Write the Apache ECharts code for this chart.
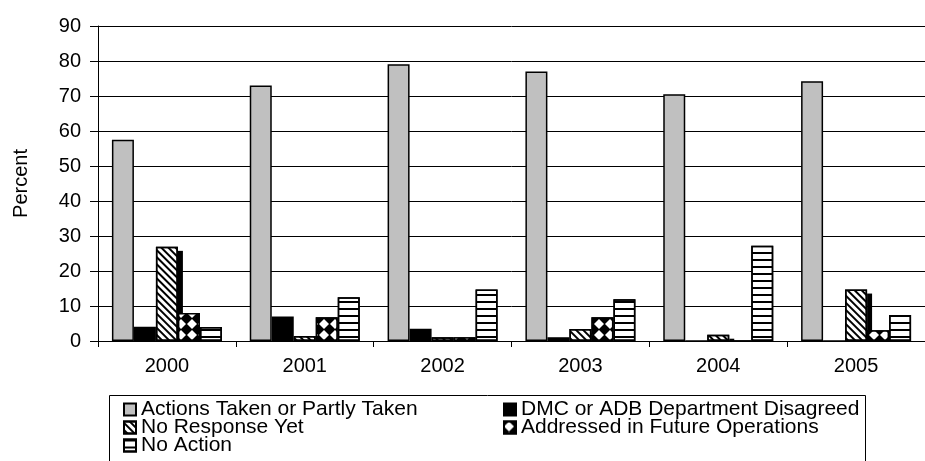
<!DOCTYPE html>
<html>
<head>
<meta charset="utf-8">
<title>Status of Recommendations, 2000-2005</title>
<script src="https://cdn.jsdelivr.net/npm/echarts@6/dist/echarts.min.js"></script>
<style>
  html, body { margin: 0; padding: 0; background: #fff; }
  #chart { width: 925px; height: 461px; }
</style>
</head>
<body>
<div id="chart"></div>
<script>
// Share of recommendations by status, per year (percent)
const years = ['2000', '2001', '2002', '2003', '2004', '2005'];
const actionsTaken = [57.5, 73.0, 79.1, 77.0, 70.5, 74.2];
const disagreed    = [4.1, 7.0, 3.5, 1.1, 0, 0];
const noResponse   = [26.9, 1.4, 1.1, 3.4, 1.8, 14.7];
const addressed    = [8.0, 6.8, 1.1, 6.8, 0, 3.1];
const noAction     = [4.0, 12.5, 14.7, 11.9, 27.2, 7.4];
const yTicks = { min: 0, max: 90, step: 10 };

const FONT = '"Liberation Sans", Arial, sans-serif';
const BAR_W = 22;

const outline = { borderColor: '#000', borderWidth: 1.5 };

function barSeries(name, data, style) {
  return {
    name: name,
    type: 'bar',
    data: data,
    barWidth: BAR_W,
    barGap: '0%',
    itemStyle: Object.assign({}, outline, style),
    emphasis: { disabled: true },
    animation: false
  };
}

const legendCommon = {
  orient: 'vertical',
  top: 399,
  height: 80,
  padding: 0,
  itemWidth: 12,
  itemHeight: 12,
  itemGap: -3,
  icon: 'rect',
  selectedMode: false,
  textStyle: { fontSize: 21, fontFamily: FONT, color: '#000', lineHeight: 17 }
};

const chart = echarts.init(document.getElementById('chart'), null, { renderer: 'canvas' });

chart.setOption({
  backgroundColor: '#fff',
  animation: false,
  textStyle: { fontFamily: FONT, color: '#000' },
  grid: { left: 98, top: 26, width: 837, height: 315, containLabel: false },
  xAxis: {
    type: 'category',
    data: years,
    axisLine: { lineStyle: { color: '#000', width: 1 } },
    axisTick: { show: true, length: 6, lineStyle: { color: '#000' } },
    axisLabel: { color: '#000', fontSize: 20, fontFamily: FONT, margin: 15 }
  },
  yAxis: {
    type: 'value',
    min: yTicks.min,
    max: yTicks.max,
    interval: yTicks.step,
    name: 'Percent',
    nameLocation: 'middle',
    nameGap: 67,
    nameRotate: 90,
    nameTextStyle: { color: '#000', fontSize: 20, fontFamily: FONT },
    axisLine: { show: true, lineStyle: { color: '#000', width: 1 } },
    axisTick: { show: true, length: 8, lineStyle: { color: '#000' } },
    axisLabel: { color: '#000', fontSize: 20, fontFamily: FONT, margin: 17 },
    splitLine: { show: true, lineStyle: { color: '#000', width: 1 } }
  },
  legend: [
    Object.assign({}, legendCommon, {
      data: ['Actions Taken or Partly Taken', 'No Response Yet', 'No Action'],
      left: 123
    }),
    Object.assign({}, legendCommon, {
      data: ['DMC or ADB Department Disagreed', 'Addressed in Future Operations'],
      left: 503
    })
  ],
  graphic: [
    {
      type: 'rect',
      z: -1,
      silent: true,
      shape: { x: 109.5, y: 395.5, width: 756, height: 80 },
      style: { fill: '#fff', stroke: '#000', lineWidth: 1 }
    }
  ],
  series: [
    barSeries('Actions Taken or Partly Taken', actionsTaken, { color: '#c0c0c0' }),
    barSeries('DMC or ADB Department Disagreed', disagreed, { color: '#000' }),
    barSeries('No Response Yet', noResponse, {
      color: '#fff',
      decal: {
        symbol: 'rect', symbolSize: 1, color: '#000',
        dashArrayX: [1, 0], dashArrayY: [2, 3], rotation: Math.PI / 4
      }
    }),
    // offset drop shadow along the right side of the No Response bars
    {
      type: 'custom',
      name: 'noResponseShadow',
      clip: true,
      silent: true,
      animation: false,
      data: noResponse.map(function (v, i) { return [i, v]; }),
      renderItem: function (params, api) {
        const top = api.coord([api.value(0), api.value(1)]);
        const base = api.coord([api.value(0), 0]);
        const x = top[0] + BAR_W / 2;
        const y = top[1] + 4;
        if (base[1] - y <= 0) return null;
        return {
          type: 'rect',
          shape: { x: x, y: y, width: 5, height: base[1] - y },
          style: { fill: '#000' }
        };
      }
    },
    barSeries('Addressed in Future Operations', addressed, {
      color: '#000',
      decal: {
        symbol: 'diamond', symbolSize: 1, color: '#fff',
        dashArrayX: [10, 1], dashArrayY: [10, 1]
      }
    }),
    barSeries('No Action', noAction, {
      color: '#fff',
      decal: {
        symbol: 'rect', symbolSize: 1, color: '#000',
        dashArrayX: [1, 0], dashArrayY: [2, 5]
      }
    })
  ]
});
</script>
</body>
</html>
